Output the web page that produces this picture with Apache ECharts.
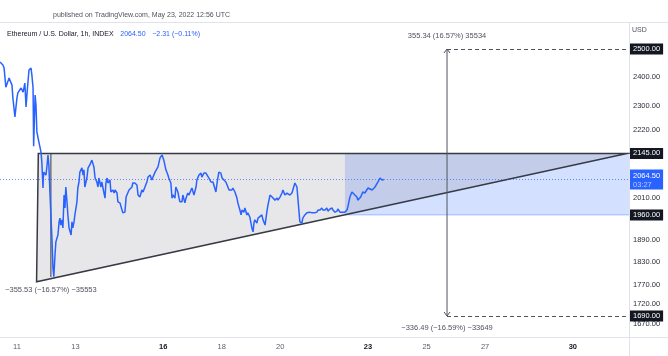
<!DOCTYPE html>
<html><head><meta charset="utf-8">
<script src="https://cdn.jsdelivr.net/npm/echarts@6/dist/echarts.min.js"></script>
<style>html,body{margin:0;padding:0;background:#fff}#c{width:668px;height:356px}</style>
</head><body><div id="c"></div>
<script>
// ---- data ----
const days = [
10.42,10.52,10.56,10.62,10.66,10.73,10.83,10.86,10.93,11.00,
11.03,11.14,11.17,11.21,11.27,11.31,11.34,11.41,11.48,11.51,
11.55,11.57,11.62,11.65,11.68,11.75,11.82,11.85,11.89,11.90,
11.92,11.99,12.03,12.06,12.09,12.13,12.16,12.20,12.23,12.26,
12.30,12.33,12.37,12.40,12.44,12.47,12.50,12.54,12.57,12.61,
12.64,12.67,12.71,12.74,12.78,12.85,12.88,12.91,12.95,12.98,
13.05,13.08,13.12,13.15,13.19,13.22,13.26,13.29,13.32,13.39,
13.43,13.49,13.56,13.60,13.63,13.67,13.73,13.77,13.80,13.87,
13.90,13.94,14.01,14.04,14.08,14.11,14.18,14.21,14.28,14.32,
14.35,14.42,14.45,14.52,14.59,14.62,14.69,14.73,14.76,14.83,
14.93,14.96,15.03,15.10,15.14,15.20,15.27,15.31,15.37,15.44,
15.48,15.55,15.61,15.65,15.72,15.78,15.82,15.89,15.96,15.99,
16.02,16.09,16.16,16.19,16.26,16.30,16.33,16.40,16.43,16.50,
16.54,16.57,16.64,16.67,16.74,16.78,16.84,16.88,16.95,16.98,
17.05,17.12,17.15,17.22,17.29,17.32,17.39,17.46,17.49,17.56,
17.63,17.70,17.73,17.80,17.84,17.90,17.97,18.01,18.07,18.14,
18.21,18.25,18.35,18.38,18.45,18.52,18.55,18.62,18.66,18.69,
18.76,18.79,18.86,18.89,18.96,19.03,19.07,19.10,19.13,19.20,
19.24,19.30,19.37,19.41,19.48,19.54,19.58,19.65,19.72,19.75,
19.82,19.89,19.92,19.99,20.06,20.09,20.16,20.23,20.26,20.33,
20.40,20.43,20.50,20.57,20.60,20.67,20.74,20.77,20.84,20.91,
21.01,21.08,21.12,21.18,21.25,21.29,21.36,21.42,21.46,21.53,
21.59,21.63,21.70,21.77,21.80,21.87,21.94,21.97,22.04,22.11,
22.14,22.21,22.28,22.31,22.38,22.45,22.48,22.55,22.62,22.65,
22.75,22.82,22.89,23.00,23.06,23.14,23.24,23.34,23.41,23.48,
23.54];
const prices = [
2453,2442,2431,2364,2361,2396,2371,2327,2263,2327,
2344,2361,2364,2347,2378,2296,2337,2424,2431,2406,
2361,2168,2337,2303,2214,2181,2150,2118,2039,2069,
2087,2078,2109,2140,2109,2018,1960,1884,1813,1790,
1848,1884,1881,1903,1940,1951,1931,1946,1923,2018,
1980,2042,1998,1960,1923,1903,1940,1923,1940,1960,
1998,2039,2057,2087,2084,2100,2078,2094,2042,2069,
2100,2109,2124,2118,2103,2069,2057,2042,2069,2042,
2057,2039,2009,2054,2069,2054,2063,2027,2033,2024,
2033,2024,1998,1995,1974,1966,1968,2012,2009,2033,
2042,2054,2054,2048,2018,2012,2033,2027,2027,2057,
2072,2078,2063,2072,2087,2087,2103,2131,2140,2140,
2124,2094,2078,2069,2054,2009,2018,2009,2042,2027,
2009,1998,1998,2018,1995,2009,2024,2018,2033,2039,
2018,2042,2063,2078,2084,2072,2084,2084,2087,2069,
2057,2057,2054,2027,2054,2087,2084,2069,2063,2057,
2042,2033,2033,2039,2027,2009,1995,1974,1960,1974,
1968,1980,1960,1966,1954,1923,1912,1937,1946,1937,
1951,1946,1960,1946,1931,1968,1989,2018,2012,2012,
2003,2009,2003,2012,2024,2033,2018,2024,2027,2018,
2024,2033,2054,2042,2039,1940,1937,1951,1960,1966,
1968,1966,1968,1966,1968,1974,1974,1980,1974,1974,
1980,1971,1977,1980,1974,1968,1971,1977,1968,1968,
1971,1968,1974,1983,2012,2027,2024,2018,2012,2003,
2012,2027,2024,2039,2042,2033,2042,2057,2069,2063,
2064.5];

const xTickDays = [11, 13, 16, 18, 20, 23, 25, 27, 30];
const xBoldDays = [16, 23, 30];
const yTickLabels = [2400, 2300, 2220, 2010, 1950, 1890, 1830, 1770, 1720, 1670];
const yBoxLabels = [2145, 1960];
const lastPrice = 2064.5;
const lastCountdown = '03:27';

const triangleDays = [11.73, 31.85, 11.67];
const trianglePrices = [2145, 2145, 1777];
const rectDays = [22.21, 31.92];
const rectPrices = [2145, 1960];
const rangeDay = 12.16;
const rangePrices = [2145, 1789.5];
const rangeLabel = '\u2212355.53 (\u221216.57%) \u221235553';
const arrowDay = 25.70;
const arrowPrices = [2500, 1690];
const arrowLabels = ['355.34 (16.57%) 35534', '\u2212336.49 (\u221216.59%) \u221233649'];

const xMin = 10.42, xMax = 31.92, yMin = 1638.7, yMax = 2601;

// ---- chart ----
const FONT = 'Liberation Sans, Arial, sans-serif';
const FS = 7.5;
const grey = '#50535e', dark = '#363a45', axisText = '#2a2e39';
const NONE = 'rgba(0,0,0,0)';

function boxLabel(v) {
  return {show: true, position: 'end', distance: 1, formatter: v.toFixed(2),
    backgroundColor: '#131722', color: '#ffffff', padding: [2, 3, 1, 3], fontSize: FS, fontFamily: FONT};
}

function renderDrawings(params, api) {
  const c = (d, p) => api.coord([d, p]);
  const t0 = c(triangleDays[0], trianglePrices[0]);
  const t1 = c(triangleDays[1], trianglePrices[1]);
  const t2 = c(triangleDays[2], trianglePrices[2]);
  const r0 = c(rectDays[0], rectPrices[0]);
  const r1 = c(rectDays[1], rectPrices[1]);
  const m0 = c(rangeDay, rangePrices[0]);
  const m1 = c(rangeDay, rangePrices[1]);
  const a0 = c(arrowDay, arrowPrices[0]);
  const a1 = c(arrowDay, arrowPrices[1]);
  const txt = (x, y, s) => ({type: 'text', x: x, y: y,
    style: {text: s, fill: grey, fontSize: FS, fontFamily: FONT, align: 'center', verticalAlign: 'middle'}});
  return {type: 'group', children: [
    {type: 'rect', shape: {x: r0[0], y: r0[1], width: r1[0] - r0[0], height: r1[1] - r0[1]},
      style: {fill: 'rgba(41,98,255,0.2)'}},
    {type: 'line', shape: {x1: r0[0], y1: r1[1], x2: r1[0], y2: r1[1]},
      style: {stroke: 'rgba(41,98,255,0.35)', lineWidth: 1}},
    {type: 'polygon', shape: {points: [t0, t1, t2]},
      style: {fill: 'rgba(120,123,134,0.18)', stroke: dark, lineWidth: 1.5}},
    {type: 'line', shape: {x1: m0[0], y1: m0[1], x2: m1[0], y2: m1[1]},
      style: {stroke: dark, lineWidth: 1}},
    txt(m1[0], m1[1] + 13, rangeLabel),
    {type: 'line', shape: {x1: a0[0], y1: a0[1], x2: a1[0], y2: a1[1]},
      style: {stroke: grey, lineWidth: 1}},
    {type: 'polyline', shape: {points: [[a0[0] - 3, a0[1] + 4], [a0[0], a0[1]], [a0[0] + 3, a0[1] + 4]]},
      style: {stroke: grey, lineWidth: 1, fill: null}},
    {type: 'polyline', shape: {points: [[a1[0] - 3, a1[1] - 4], [a1[0], a1[1]], [a1[0] + 3, a1[1] - 4]]},
      style: {stroke: grey, lineWidth: 1, fill: null}},
    txt(a0[0], a0[1] - 13, arrowLabels[0]),
    txt(a1[0], a1[1] + 12, arrowLabels[1])
  ]};
}

const plainLabel = (v) => ({show: true, position: 'end', distance: 4, formatter: v.toFixed(2),
  color: axisText, fontSize: FS, fontFamily: FONT});

const markData = [];
yTickLabels.forEach(v => markData.push({yAxis: v, lineStyle: {color: NONE, width: 0}, label: plainLabel(v)}));
markData.push({yAxis: lastPrice,
  lineStyle: {color: 'rgba(41,98,255,0.7)', type: [1, 2], width: 1},
  label: {show: true, position: 'end', distance: 1,
    formatter: '{a|' + lastPrice.toFixed(2) + '}\n{b|' + lastCountdown + '}',
    backgroundColor: '#2962ff', padding: [2, 3, 1, 3],
    rich: {a: {color: '#ffffff', fontSize: FS, fontFamily: FONT, lineHeight: 9},
           b: {color: '#bccbff', fontSize: FS, fontFamily: FONT, lineHeight: 8}}}});
yBoxLabels.forEach(v => markData.push({yAxis: v, lineStyle: {color: NONE, width: 0}, label: boxLabel(v)}));
arrowPrices.forEach(v => markData.push([
  {coord: [arrowDay, v], lineStyle: {color: grey, type: [4, 3], width: 1}, label: boxLabel(v)},
  {coord: [xMax, v]}
]));

const chart = echarts.init(document.getElementById('c'), null, {renderer: 'canvas'});
chart.setOption({
  animation: false,
  backgroundColor: '#ffffff',
  textStyle: {fontFamily: FONT},
  grid: {left: 0, right: 39, top: 22, bottom: 19, containLabel: false, outerBoundsMode: 'none'},
  xAxis: {
    type: 'value', min: xMin, max: xMax,
    axisLine: {show: false}, axisTick: {show: false}, splitLine: {show: false},
    axisLabel: {
      customValues: xTickDays, margin: 6,
      formatter: v => (xBoldDays.indexOf(v) >= 0 ? '{b|' + v + '}' : '{n|' + v + '}'),
      rich: {n: {color: '#5d606b', fontSize: FS, fontFamily: FONT},
             b: {color: '#131722', fontSize: FS, fontFamily: FONT, fontWeight: 'bold'}}
    }
  },
  yAxis: {
    type: 'log', logBase: 10, position: 'right', min: yMin, max: yMax,
    axisLine: {show: false}, axisTick: {show: false}, splitLine: {show: false},
    axisLabel: {show: false}
  },
  graphic: [
    {type: 'line', shape: {x1: 0, y1: 22.5, x2: 668, y2: 22.5}, style: {stroke: '#e0e3eb', lineWidth: 1}},
    {type: 'line', shape: {x1: 629.5, y1: 22, x2: 629.5, y2: 356}, style: {stroke: '#e0e3eb', lineWidth: 1}},
    {type: 'line', shape: {x1: 0, y1: 337.5, x2: 668, y2: 337.5}, style: {stroke: '#e0e3eb', lineWidth: 1}},
    {type: 'text', left: 53, top: 12,
      style: {text: 'published on TradingView.com, May 23, 2022 12:56 UTC', fill: '#50535e', fontSize: 7, fontFamily: FONT}},
    {type: 'text', left: 7, top: 28,
      style: {text: '{t|Ethereum / U.S. Dollar, 1h, INDEX}  {v|2064.50}  {v|\u22122.31 (\u22120.11%)}',
        rich: {t: {fill: '#131722', fontSize: 7, fontFamily: FONT}, v: {fill: '#2962ff', fontSize: 7, fontFamily: FONT}}}},
    {type: 'text', left: 632, top: 27, style: {text: 'USD', fill: '#50535e', fontSize: 7, fontFamily: FONT}}
  ],
  series: [
    {
      type: 'custom', coordinateSystem: 'cartesian2d', z: 1, silent: true,
      renderItem: renderDrawings, data: [[triangleDays[0], trianglePrices[0]]]
    },
    {
      type: 'line', z: 3, showSymbol: false, silent: true,
      data: days.map((d, i) => [d, prices[i]]),
      lineStyle: {color: '#2962ff', width: 1.5},
      markLine: {silent: true, symbol: 'none', animation: false, data: markData}
    }
  ]
});
</script>
</body></html>
